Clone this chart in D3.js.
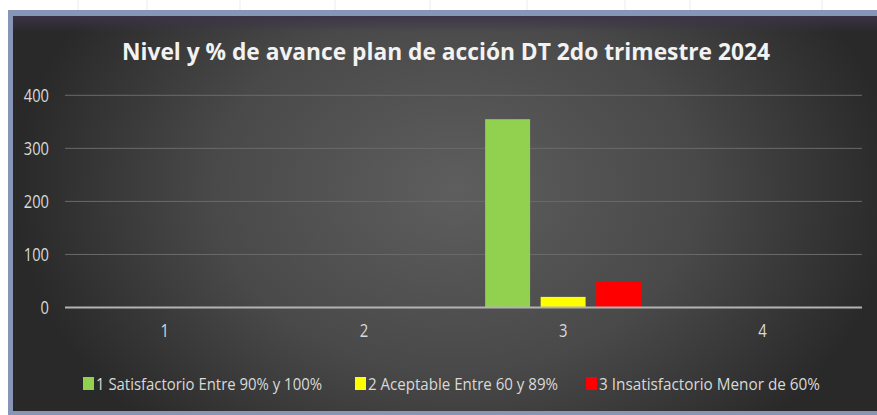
<!DOCTYPE html>
<html>
<head>
<meta charset="utf-8">
<script src="https://cdn.jsdelivr.net/npm/d3@7"></script>
<style>
  html, body { margin: 0; background: #fff; overflow: hidden; }
  svg { display: block; font-family: "Open Sans", sans-serif; }
</style>
</head>
<body>
<div id="chart"></div>
<script>
// datos
var categorias = ["1", "2", "3", "4"];
var series = ["1 Satisfactorio Entre 90% y 100%", "2 Aceptable Entre 60 y 89%", "3 Insatisfactorio Menor de 60%"];
var satisfactorio = [0, 0, 355, 1];
var aceptable = [0, 0, 20, 1];
var insatisfactorio = [0, 0, 48, 1];
var colores = ["#92d050", "#ffff00", "#ff0000"];
var yTicks = [0, 100, 200, 300, 400];
var titulo = "Nivel y % de avance plan de acción DT 2do trimestre 2024";

var width = 877, height = 415;
var svg = d3.select("#chart").append("svg")
  .attr("width", width)
  .attr("height", height);

var defs = svg.append("defs");
var rg = defs.append("radialGradient").attr("id", "fondo")
  .attr("gradientUnits", "userSpaceOnUse")
  .attr("cx", 455).attr("cy", 190).attr("r", 440)
  .attr("gradientTransform", "translate(455,190) scale(1,0.75) translate(-455,-190)");
rg.append("stop").attr("offset", "0%").attr("stop-color", "#5e5e5e");
rg.append("stop").attr("offset", "55%").attr("stop-color", "#494949");
rg.append("stop").attr("offset", "100%").attr("stop-color", "#292929");

var tg = defs.append("linearGradient").attr("id", "topband")
  .attr("x1", 0).attr("y1", 0).attr("x2", 0).attr("y2", 1);
tg.append("stop").attr("offset", "0%").attr("stop-color", "#3d3348").attr("stop-opacity", 0.9);
tg.append("stop").attr("offset", "100%").attr("stop-color", "#3d3348").attr("stop-opacity", 0);

// lineas de la hoja de calculo
var colHoja = [78, 147, 240, 335, 430, 527, 625, 690, 822];
svg.selectAll(".hoja").data(colHoja).enter().append("line")
  .attr("x1", d => d).attr("x2", d => d)
  .attr("y1", 0).attr("y2", 10)
  .attr("stroke", "#ececec");

// marco y fondo (sin borde a la derecha)
svg.append("rect").attr("x", 8).attr("y", 10).attr("width", width - 8).attr("height", height - 10)
  .attr("fill", "#8796b6");
svg.append("rect").attr("x", 13).attr("y", 16).attr("width", width - 13).attr("height", 395)
  .attr("fill", "url(#fondo)");
svg.append("rect").attr("x", 13).attr("y", 16).attr("width", width - 13).attr("height", 16)
  .attr("fill", "url(#topband)");

var x0 = d3.scaleBand().domain(categorias).range([65, 862]);
var x1 = d3.scaleBand().domain(series).range([0, x0.bandwidth()])
  .paddingInner(0.19).paddingOuter(0.39);
var y = d3.scaleLinear().domain([0, 400]).range([307.5, 95.3]);

// lineas de cuadricula
svg.append("g").selectAll("line").data(yTicks.filter(d => d > 0)).enter().append("line")
  .attr("x1", 65).attr("x2", 862)
  .attr("y1", d => y(d)).attr("y2", d => y(d))
  .attr("stroke", "#6b6b6b").attr("stroke-width", 1);

// barras
var valores = [satisfactorio, aceptable, insatisfactorio];
var filas = [];
categorias.forEach(function (c, i) {
  series.forEach(function (s, j) {
    filas.push({ cat: c, serie: s, valor: valores[j][i], color: colores[j] });
  });
});

svg.append("g").selectAll("rect").data(filas).enter().append("rect")
  .attr("x", d => x0(d.cat) + x1(d.serie))
  .attr("width", x1.bandwidth())
  .attr("y", d => y(d.valor))
  .attr("height", d => y(0) - y(d.valor))
  .attr("fill", d => d.color);

// linea del cero
svg.append("line")
  .attr("x1", 65).attr("x2", 862)
  .attr("y1", y(0)).attr("y2", y(0))
  .attr("stroke", "#b3b3b3").attr("stroke-width", 2);

// eje y
var yAxis = svg.append("g").attr("transform", "translate(49,0)")
  .call(d3.axisLeft(y).tickValues(yTicks).tickSize(0).tickPadding(0));
yAxis.select(".domain").remove();
yAxis.selectAll("text")
  .attr("fill", "#d9d9d9")
  .attr("textLength", function () { return this.textContent.length * 8.4; })
  .attr("lengthAdjust", "spacingAndGlyphs")
  .style("font-size", "18px")
  .style("font-family", "Open Sans, sans-serif");

// eje x
var xAxis = svg.append("g").attr("transform", "translate(0,324)")
  .call(d3.axisBottom(x0).tickSize(0).tickPadding(0));
xAxis.select(".domain").remove();
xAxis.selectAll("text")
  .attr("fill", "#d9d9d9")
  .attr("textLength", 8.5)
  .attr("lengthAdjust", "spacingAndGlyphs")
  .style("font-size", "18px")
  .style("font-family", "Open Sans, sans-serif");

// titulo
svg.append("text")
  .attr("x", 122).attr("y", 60)
  .attr("textLength", 648).attr("lengthAdjust", "spacingAndGlyphs")
  .attr("fill", "#f2f2f2")
  .style("font-size", "24px").style("font-weight", "bold")
  .text(titulo);

// leyenda
var leyX = [83, 355, 586];
var leyLargo = [226, 190, 221];
var ley = svg.append("g").selectAll("g").data(series).enter().append("g")
  .attr("transform", (d, i) => "translate(" + leyX[i] + ",0)");
ley.append("rect")
  .attr("x", 0).attr("y", 377).attr("width", 11).attr("height", 13)
  .attr("fill", (d, i) => colores[i]);
ley.append("text")
  .attr("x", 13).attr("y", 389.5)
  .attr("textLength", (d, i) => leyLargo[i]).attr("lengthAdjust", "spacingAndGlyphs")
  .attr("fill", "#d9d9d9")
  .style("font-size", "17px")
  .text(d => d);
</script>
</body>
</html>
